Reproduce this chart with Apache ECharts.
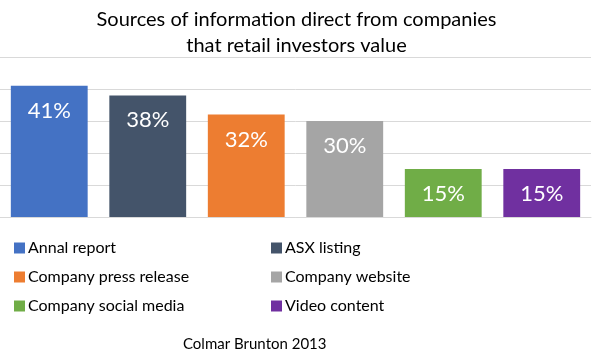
<!DOCTYPE html>
<html>
<head>
<meta charset="utf-8">
<script src="https://cdn.jsdelivr.net/npm/echarts@6/dist/echarts.min.js"></script>
<style>html,body{margin:0;padding:0;background:#fff;}#c{width:593px;height:357px;}</style>
</head>
<body>
<div id="c"></div>
<script>
const categories = ['Annal report','ASX listing','Company press release','Company website','Company social media','Video content'];
const values = [41, 38, 32, 30, 15, 15];
const colors = ['#4472C4','#44546A','#ED7D31','#A5A5A5','#70AD47','#7030A0'];
const yTicks = [0, 10, 20, 30, 40, 50];

const FONT = 'Lato, "Open Sans", sans-serif';
const chart = echarts.init(document.getElementById('c'), null, {renderer:'canvas'});

const series = categories.map((name, i) => ({
  name: name,
  type: 'bar',
  stack: 'all',
  barWidth: '78%',
  itemStyle: { color: colors[i] },
  label: {
    show: true,
    position: 'insideTop',
    distance: 14,
    color: '#fff',
    fontFamily: FONT,
    fontSize: 22,
    formatter: p => p.value + '%'
  },
  data: values.map((v, j) => j === i ? v : '-')
}));

const legendBase = {
  orient: 'vertical', top: 233,
  itemWidth: 11, itemHeight: 11, itemGap: 9,
  icon: 'rect',
  textStyle: { fontFamily: FONT, fontSize: 16, color: '#000', lineHeight: 20, padding: [0,0,0,-2] }
};

chart.setOption({
  animation: false,
  backgroundColor: '#fff',
  title: [{
    text: 'Sources of information direct from companies\nthat retail investors value',
    left: 'center', top: 2, padding: [5, 14, 5, 0],
    textStyle: { fontFamily: FONT, fontSize: 20, fontWeight: 'normal', color: '#000', lineHeight: 26 }
  }, {
    text: 'Colmar Brunton 2013',
    left: 178, top: 332,
    textStyle: { fontFamily: FONT, fontSize: 15, fontWeight: 'normal', color: '#000' }
  }],
  legend: [
    Object.assign({}, legendBase, { left: 9, data: [categories[0], categories[2], categories[4]] }),
    Object.assign({}, legendBase, { left: 266, data: [categories[1], categories[3], categories[5]] })
  ],
  grid: { left: 0, right: 2, top: 57, height: 160, containLabel: false },
  xAxis: {
    type: 'category',
    data: categories,
    axisLine: { show: true, lineStyle: { color: '#d9d9d9' } },
    axisTick: { show: false },
    axisLabel: { show: false }
  },
  yAxis: {
    type: 'value',
    min: yTicks[0], max: yTicks[yTicks.length - 1], interval: 10,
    axisLine: { show: false },
    axisTick: { show: false },
    axisLabel: { show: false },
    splitLine: { lineStyle: { color: '#d9d9d9', width: 1 } }
  },
  series: series
});
</script>
</body>
</html>
